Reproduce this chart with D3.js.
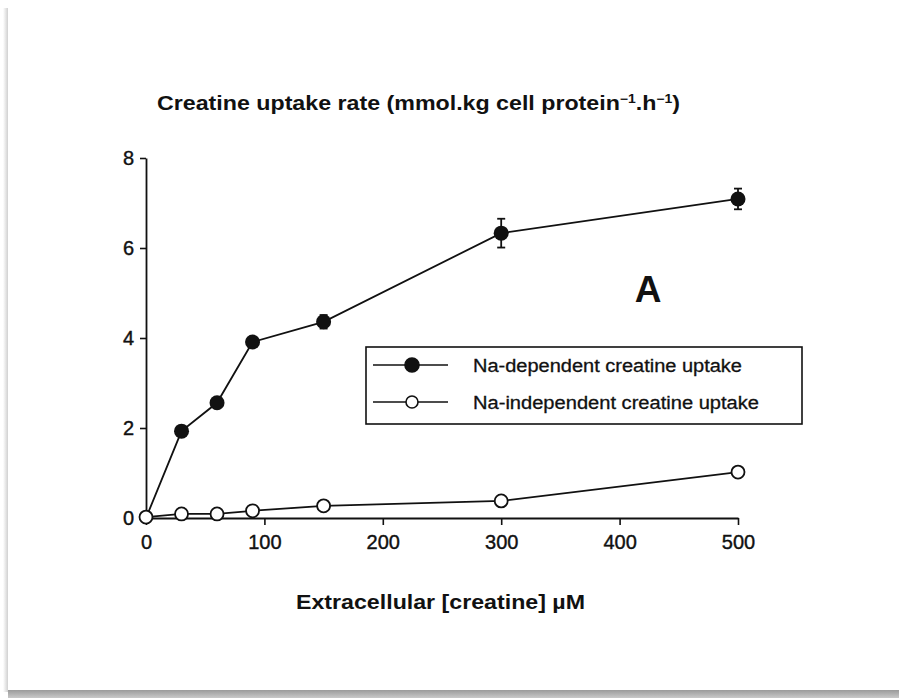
<!DOCTYPE html>
<html>
<head>
<meta charset="utf-8">
<script src="https://cdn.jsdelivr.net/npm/d3@7"></script>
<style>
  body { margin: 0; background: #fff; }
  svg { display: block; }
  text { font-family: "Liberation Sans", Arial, Helvetica, sans-serif; fill: #111; }
</style>
</head>
<body>
<svg width="899" height="698"></svg>
<script>
// values
var concentration = [0, 30, 60, 90, 150, 300, 500];
var naDependent = [0, 1.93, 2.56, 3.91, 4.36, 6.33, 7.09];
var naDependentErr = [0, 0.05, 0.05, 0.07, 0.15, 0.32, 0.23];
var naIndependent = [0.02, 0.09, 0.09, 0.16, 0.27, 0.38, 1.02];
var xTicks = [0, 100, 200, 300, 400, 500];
var yTicks = [0, 2, 4, 6, 8];
var legendLabels = ['Na-dependent creatine uptake', 'Na-independent creatine uptake'];

var svg = d3.select('svg');

// card + shadow round the figure
var defs = svg.append('defs');
var gb = defs.append('linearGradient').attr('id', 'shadowB')
    .attr('x1', 0).attr('y1', 0).attr('x2', 0).attr('y2', 1);
gb.append('stop').attr('offset', 0).attr('stop-color', '#9a9a9a');
gb.append('stop').attr('offset', 1).attr('stop-color', '#c8c8c8');
var gl = defs.append('linearGradient').attr('id', 'shadowL')
    .attr('x1', 0).attr('y1', 0).attr('x2', 1).attr('y2', 0);
gl.append('stop').attr('offset', 0).attr('stop-color', '#ffffff');
gl.append('stop').attr('offset', 1).attr('stop-color', '#d0d0d0');

svg.append('rect')
    .attr('x', 3).attr('y', 8).attr('width', 5).attr('height', 684)
    .style('fill', 'url(#shadowL)');
svg.append('rect')
    .attr('x', 8).attr('y', 690).attr('width', 891).attr('height', 8)
    .style('fill', 'url(#shadowB)');

var x = d3.scaleLinear().domain([0, 500]).range([146, 738]);
var y = d3.scaleLinear().domain([0, 8]).range([518, 158]);

// axes
var xAxis = svg.append('g')
    .attr('transform', 'translate(0,' + y(0) + ')')
    .call(d3.axisBottom(x).tickValues(xTicks).tickSize(7).tickSizeOuter(0).tickPadding(10));
var yAxis = svg.append('g')
    .attr('transform', 'translate(' + x(0) + ',0)')
    .call(d3.axisLeft(y).tickValues(yTicks).tickSize(6).tickSizeOuter(0).tickPadding(6));

[xAxis, yAxis].forEach(function (ax) {
    ax.select('.domain').style('stroke', '#111').style('stroke-width', 1.8);
    ax.selectAll('.tick line').style('stroke', '#111').style('stroke-width', 1.6);
    ax.selectAll('.tick text')
        .style('font-size', '20px')
        .style('font-family', '"Liberation Sans", Arial, sans-serif')
        .style('fill', '#111')
        .style('stroke', '#111').style('stroke-width', 0.4);
});

// y title
var title = svg.append('text')
    .attr('x', 157).attr('y', 110)
    .style('font-size', '20px').style('font-weight', 'bold');
title.append('tspan').text('Creatine uptake rate (mmol.kg cell protein');
title.append('tspan').attr('dy', -7).style('font-size', '12px').text('\u22121');
title.append('tspan').attr('dy', 7).text('.h');
title.append('tspan').attr('dy', -7).style('font-size', '12px').text('\u22121');
title.append('tspan').attr('dy', 7).text(')');
title.attr('textLength', 523).attr('lengthAdjust', 'spacingAndGlyphs');

// x title
svg.append('text')
    .attr('x', 296).attr('y', 609)
    .style('font-size', '21px').style('font-weight', 'bold')
    .attr('textLength', 289).attr('lengthAdjust', 'spacingAndGlyphs')
    .text('Extracellular [creatine] \u00b5M');

// panel letter
svg.append('text')
    .attr('x', 648).attr('y', 302)
    .attr('text-anchor', 'middle')
    .style('font-size', '37px').style('font-weight', 'bold')
    .text('A');

var line = d3.line();

// Na-independent series
var openPts = concentration.map(function (c, i) { return [x(c), y(naIndependent[i])]; });
svg.append('path')
    .attr('d', line(openPts))
    .style('fill', 'none').style('stroke', '#111').style('stroke-width', 1.8);

// Na-dependent series
var filledPts = concentration.map(function (c, i) { return [x(c), y(naDependent[i])]; });
svg.append('path')
    .attr('d', line(filledPts))
    .style('fill', 'none').style('stroke', '#111').style('stroke-width', 1.8);

// error bars
var err = svg.append('g');
concentration.forEach(function (c, i) {
    if (naDependentErr[i] <= 0) return;
    var cx = x(c);
    var top = y(naDependent[i] + naDependentErr[i]);
    var bot = y(naDependent[i] - naDependentErr[i]);
    err.append('line').attr('x1', cx).attr('x2', cx).attr('y1', top).attr('y2', bot)
        .style('stroke', '#111').style('stroke-width', 1.8);
    err.append('line').attr('x1', cx - 4).attr('x2', cx + 4).attr('y1', top).attr('y2', top)
        .style('stroke', '#111').style('stroke-width', 1.8);
    err.append('line').attr('x1', cx - 4).attr('x2', cx + 4).attr('y1', bot).attr('y2', bot)
        .style('stroke', '#111').style('stroke-width', 1.8);
});

svg.append('g').selectAll('circle')
    .data(concentration)
    .enter().append('circle')
    .attr('cx', function (d) { return x(d); })
    .attr('cy', function (d, i) { return y(naIndependent[i]); })
    .attr('r', 6.5)
    .style('fill', '#fff').style('stroke', '#111').style('stroke-width', 1.8);

svg.append('g').selectAll('circle')
    .data(concentration.slice(1))
    .enter().append('circle')
    .attr('cx', function (d) { return x(d); })
    .attr('cy', function (d, i) { return y(naDependent[i + 1]); })
    .attr('r', 7.5)
    .style('fill', '#111');

// legend
var legend = svg.append('g');
legend.append('rect')
    .attr('x', 366).attr('y', 347).attr('width', 436).attr('height', 77)
    .style('fill', '#fff').style('stroke', '#111').style('stroke-width', 1.6);

legendLabels.forEach(function (lab, i) {
    var ly = 365 + i * 37;
    legend.append('line')
        .attr('x1', 373).attr('x2', 448).attr('y1', ly).attr('y2', ly)
        .style('stroke', '#111').style('stroke-width', 1.5);
    legend.append('circle')
        .attr('cx', 412).attr('cy', ly).attr('r', i === 0 ? 7 : 6)
        .style('fill', i === 0 ? '#111' : '#fff')
        .style('stroke', '#111').style('stroke-width', 1.6);
    legend.append('text')
        .attr('x', 473).attr('y', ly + 7)
        .style('font-size', '18px')
        .style('stroke', '#111').style('stroke-width', 0.3)
        .attr('textLength', i === 0 ? 269 : 286).attr('lengthAdjust', 'spacingAndGlyphs')
        .text(lab);
});
</script>
</body>
</html>
